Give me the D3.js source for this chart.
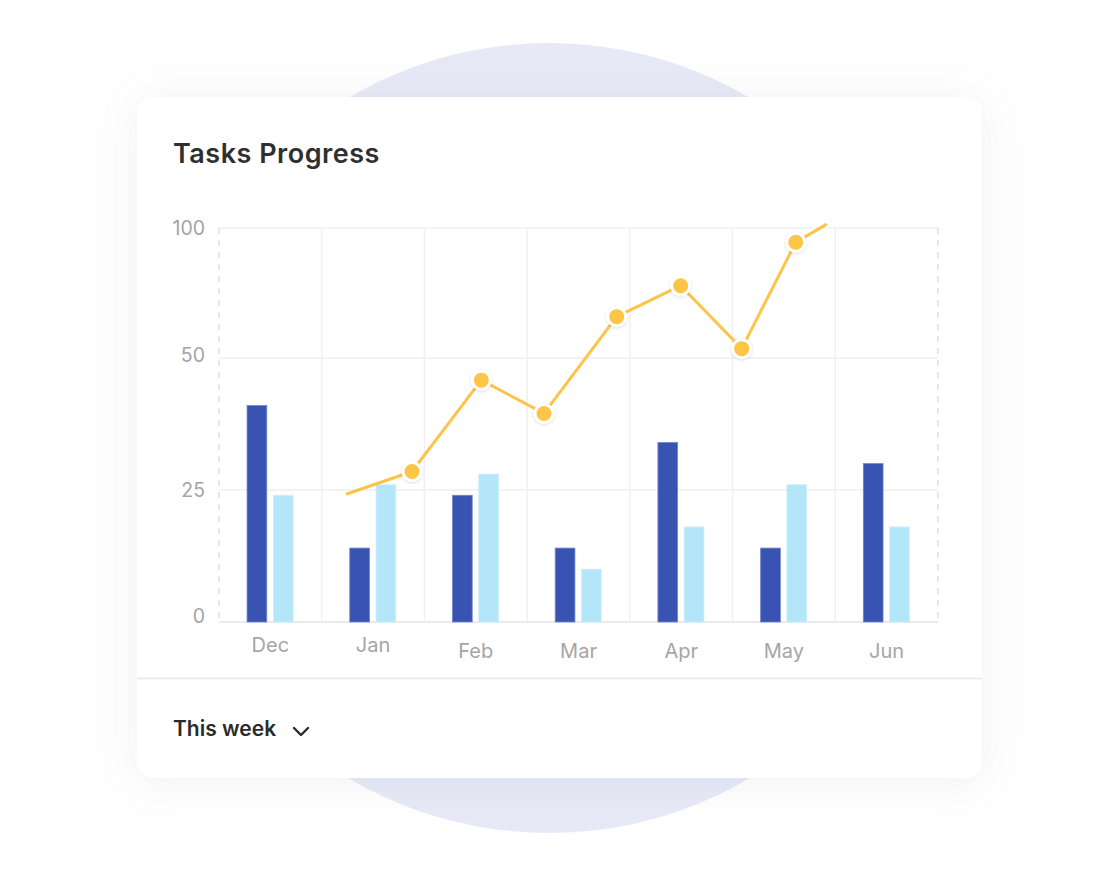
<!DOCTYPE html>
<html>
<head>
<meta charset="utf-8">
<script src="https://cdn.jsdelivr.net/npm/d3@7"></script>
<style>
  html, body { margin: 0; padding: 0; background: #ffffff; }
  svg { display: block; font-family: Inter, "Noto Sans", sans-serif; }
</style>
</head>
<body>
<svg id="chart" width="1119" height="890"></svg>
<script>
// ---- data ----
const months = ["Dec", "Jan", "Feb", "Mar", "Apr", "May", "Jun"];
const series = ["completed", "inProgress"];
const completed = [41, 14, 24, 14, 34, 14, 30];
const inProgress = [24, 26, 28, 10, 18, 26, 18];
const yTicks = [0, 25, 50, 100];
// trend line: position along month axis (in month units) and value
const trendPos = [1.236, 1.879, 2.554, 3.164, 3.872, 4.495, 5.089, 5.615, 5.917];
const trendVal = [24.2, 28.5, 45.8, 39.5, 65.9, 77.8, 53.6, 94.5, 101.5];
const trendMarked = [false, true, true, true, true, true, true, true, false];

const svg = d3.select("#chart");
const defs = svg.append("defs");

const shadow = defs.append("filter").attr("id", "cardShadow")
  .attr("x", "-20%").attr("y", "-20%").attr("width", "140%").attr("height", "140%");
shadow.append("feDropShadow").attr("dx", 0).attr("dy", 4)
  .attr("stdDeviation", 22).attr("flood-color", "#8a8fa8").attr("flood-opacity", 0.13);

const dotShadow = defs.append("filter").attr("id", "dotShadow")
  .attr("x", "-50%").attr("y", "-50%").attr("width", "200%").attr("height", "200%");
dotShadow.append("feDropShadow").attr("dx", 0).attr("dy", 1)
  .attr("stdDeviation", 1.5).attr("flood-color", "#000").attr("flood-opacity", 0.15);

// background circle
svg.append("circle").attr("cx", 549).attr("cy", 438).attr("r", 395).attr("fill", "#e7e9f6");

// card
svg.append("rect").attr("x", 137).attr("y", 97).attr("width", 845).attr("height", 681)
  .attr("rx", 16).attr("fill", "#ffffff").attr("filter", "url(#cardShadow)");

// title
svg.append("text").attr("x", 173).attr("y", 163).text("Tasks Progress")
  .attr("font-size", 27).attr("font-weight", 600).attr("letter-spacing", 0.5)
  .attr("fill", "#2f2f2f");

// separator
svg.append("line").attr("x1", 137).attr("x2", 982).attr("y1", 678.5).attr("y2", 678.5)
  .attr("stroke", "#e6e7ea").attr("stroke-width", 1.5);

// footer
svg.append("text").attr("x", 173).attr("y", 736).text("This week")
  .attr("font-size", 21).attr("font-weight", 600).attr("fill", "#2b2b2b");
svg.append("path").attr("d", "M294,728 L301,735 L308,728")
  .attr("fill", "none").attr("stroke", "#2b2b2b").attr("stroke-width", 2.4)
  .attr("stroke-linecap", "round").attr("stroke-linejoin", "round");

// ---- scales ----
const left = 219, right = 938;
const x = d3.scaleBand().domain(months).range([left, right]).padding(0);
const xSub = d3.scaleBand().domain(series).range([-23.3, 22.7]).paddingInner(0.25);
const xLine = d3.scaleLinear().domain([0, months.length]).range([left, right]);
const y = d3.scaleLinear().domain(yTicks).range([622, 490, 358, 228]);

const g = svg.append("g");

// horizontal grid
g.selectAll(".hgrid").data(yTicks).join("line")
  .attr("x1", left).attr("x2", right)
  .attr("y1", d => y(d)).attr("y2", d => y(d))
  .attr("stroke", d => d === 0 ? "#e4e4e6" : "#efeff1").attr("stroke-width", 1.6);

// vertical grid
const bounds = months.map((m, i) => i).concat([months.length]);
g.selectAll(".vgrid").data(bounds).join("line")
  .attr("x1", i => xLine(i)).attr("x2", i => xLine(i))
  .attr("y1", y(100)).attr("y2", y(0))
  .attr("stroke", i => (i === 0 || i === months.length) ? "#e2e2e4" : "#f1f1f3")
  .attr("stroke-width", 1.6)
  .attr("stroke-dasharray", i => (i === 0 || i === months.length) ? "6,6" : null);

// y axis
const yAxis = g.append("g").attr("transform", `translate(${left},0)`)
  .call(d3.axisLeft(y).tickValues(yTicks).tickSize(0).tickPadding(14));
yAxis.select(".domain").remove();
yAxis.selectAll("text").attr("font-size", 19.5).attr("fill", "#a3a3a6")
  .attr("font-family", "Inter, sans-serif")
  .attr("dy", d => d === 0 ? "0.05em" : (d === 50 ? "0.2em" : "0.34em"));

// x axis
const xAxis = g.append("g").attr("transform", `translate(0,${y(0)})`)
  .call(d3.axisBottom(x).tickSize(0));
xAxis.select(".domain").remove();
xAxis.selectAll("text").attr("font-size", 20).attr("fill", "#a5a5a8")
  .attr("font-family", "Inter, sans-serif")
  .attr("dy", 0).attr("y", (d, i) => i < 2 ? 30 : 36);

// bars
const barData = months.map((m, i) => ({ m, vals: [
  { key: "completed", v: completed[i] }, { key: "inProgress", v: inProgress[i] }] }));
const colors = { completed: "#3953b3", inProgress: "#b4e6fa" };
const strokes = { completed: "#6f84cf", inProgress: "#c9eefc" };
g.selectAll(".grp").data(barData).join("g")
  .attr("transform", d => `translate(${x(d.m) + x.bandwidth() / 2},0)`)
  .selectAll("rect").data(d => d.vals).join("rect")
  .attr("x", d => xSub(d.key)).attr("width", xSub.bandwidth())
  .attr("y", d => y(d.v)).attr("height", d => y(0) - y(d.v))
  .attr("fill", d => colors[d.key])
  .attr("stroke", d => strokes[d.key]).attr("stroke-width", 0.8);

// trend line
const pts = trendPos.map((p, i) => ({ p, v: trendVal[i], mark: trendMarked[i] }));
g.append("path").datum(pts)
  .attr("d", d3.line().x(d => xLine(d.p)).y(d => y(d.v)))
  .attr("fill", "none").attr("stroke", "#fcc448").attr("stroke-width", 3)
  .attr("stroke-linejoin", "round");

g.selectAll(".dot").data(pts.filter(d => d.mark)).join("circle")
  .attr("cx", d => xLine(d.p)).attr("cy", d => y(d.v)).attr("r", 9)
  .attr("fill", "#fdc545").attr("stroke", "#ffffff").attr("stroke-width", 3)
  .attr("filter", "url(#dotShadow)");
</script>
</body>
</html>
